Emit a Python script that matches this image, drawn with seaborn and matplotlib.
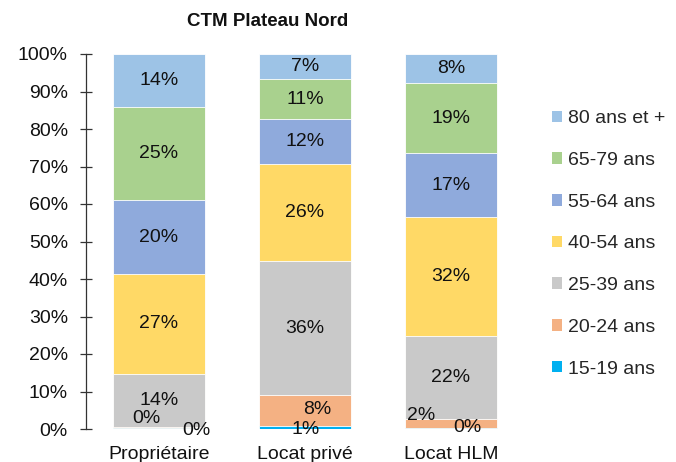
import matplotlib
matplotlib.use("Agg")
import matplotlib.pyplot as plt
from matplotlib.patches import Patch
import numpy as np
import pandas as pd
import seaborn as sns

# Housing status categories and the share of each age group (%)
categories = ["Propriétaire", "Locat privé", "Locat HLM"]
age_groups = ["15-19 ans", "20-24 ans", "25-39 ans", "40-54 ans",
              "55-64 ans", "65-79 ans", "80 ans et +"]
v_15_19 = [0.2, 0.9, 0.4]
v_20_24 = [0.3, 8.1, 2.2]
v_25_39 = [14.2, 35.8, 22.2]
v_40_54 = [26.6, 25.9, 31.7]
v_55_64 = [19.7, 12.0, 17.1]
v_65_79 = [24.9, 10.6, 18.6]
v_80_plus = [14.1, 6.7, 7.8]
yticks = [0, 10, 20, 30, 40, 50, 60, 70, 80, 90, 100]

series = [v_15_19, v_20_24, v_25_39, v_40_54, v_55_64, v_65_79, v_80_plus]
colors = ["#00B0F0", "#F4B183", "#C9C9C9", "#FFD966",
          "#8FAADC", "#A9D18E", "#9DC3E6"]

# Label nudges (pixels) for the thin segments at the bottom of the bars
label_offsets = {
    (0, 0): (37, -2), (0, 1): (-13, 9),
    (1, 0): (1, -2), (1, 1): (12, 1),
    (2, 0): (16, 1), (2, 1): (-30, 8),
}

FS = 14

sns.set_theme(style="white")
plt.rcParams["font.family"] = ["Liberation Sans", "DejaVu Sans"]

df = pd.DataFrame({"categorie": categories})
for name, vals in zip(age_groups, series):
    df[name] = vals
cum = df[age_groups].cumsum(axis=1)
bases = cum - df[age_groups]

fig = plt.figure(figsize=(6.76, 4.62), dpi=100)
ax = fig.add_axes([86 / 676, 33 / 462, 438 / 676, 375 / 462])

# Stacked bars: draw cumulative totals from the top group downwards
for name, col in reversed(list(zip(age_groups, colors))):
    sns.barplot(x=df["categorie"], y=cum[name], order=categories, color=col,
                width=0.63, saturation=1, edgecolor="white", linewidth=0.6,
                ax=ax)

# Segment value labels
for i, cat in enumerate(categories):
    for j, name in enumerate(age_groups):
        val = df.loc[i, name]
        yc = bases.loc[i, name] + val / 2
        dx, dy = label_offsets.get((i, j), (0, 0))
        ax.annotate(f"{val:.0f}%", xy=(i, yc), xytext=(dx, dy),
                    textcoords="offset pixels", ha="center", va="center",
                    fontsize=FS, color="#111111")

ax.set_xlim(-0.5, 2.5)
ax.set_ylim(0, 100)
ax.set_yticks(yticks)
ax.set_yticklabels([f"{t}%" for t in yticks], fontsize=FS, color="#111111")
ax.set_xticks(range(len(categories)))
ax.set_xticklabels(categories, fontsize=FS, color="#111111")
ax.set_xlabel("")
ax.set_ylabel("")
ax.tick_params(axis="y", direction="inout", length=8, width=0.9,
               color="#333333", pad=9, left=True)
ax.tick_params(axis="x", length=0, pad=12)
for side in ["top", "right", "bottom"]:
    ax.spines[side].set_visible(False)
ax.spines["left"].set_color("#333333")
ax.spines["left"].set_linewidth(0.9)

fig.text(268 / 676, 0.954, "CTM Plateau Nord", ha="center", va="center",
         fontsize=13.5, fontweight="bold", color="#111111")

handles = [Patch(facecolor=c, edgecolor="none") for c in colors][::-1]
fig.legend(handles, age_groups[::-1], loc="center left",
           bbox_to_anchor=(0.816, 0.472), frameon=False, fontsize=FS,
           handlelength=0.55, handleheight=0.55, handletextpad=0.3,
           labelspacing=1.27, borderpad=0, borderaxespad=0)

fig.savefig("out.png", dpi=100)
